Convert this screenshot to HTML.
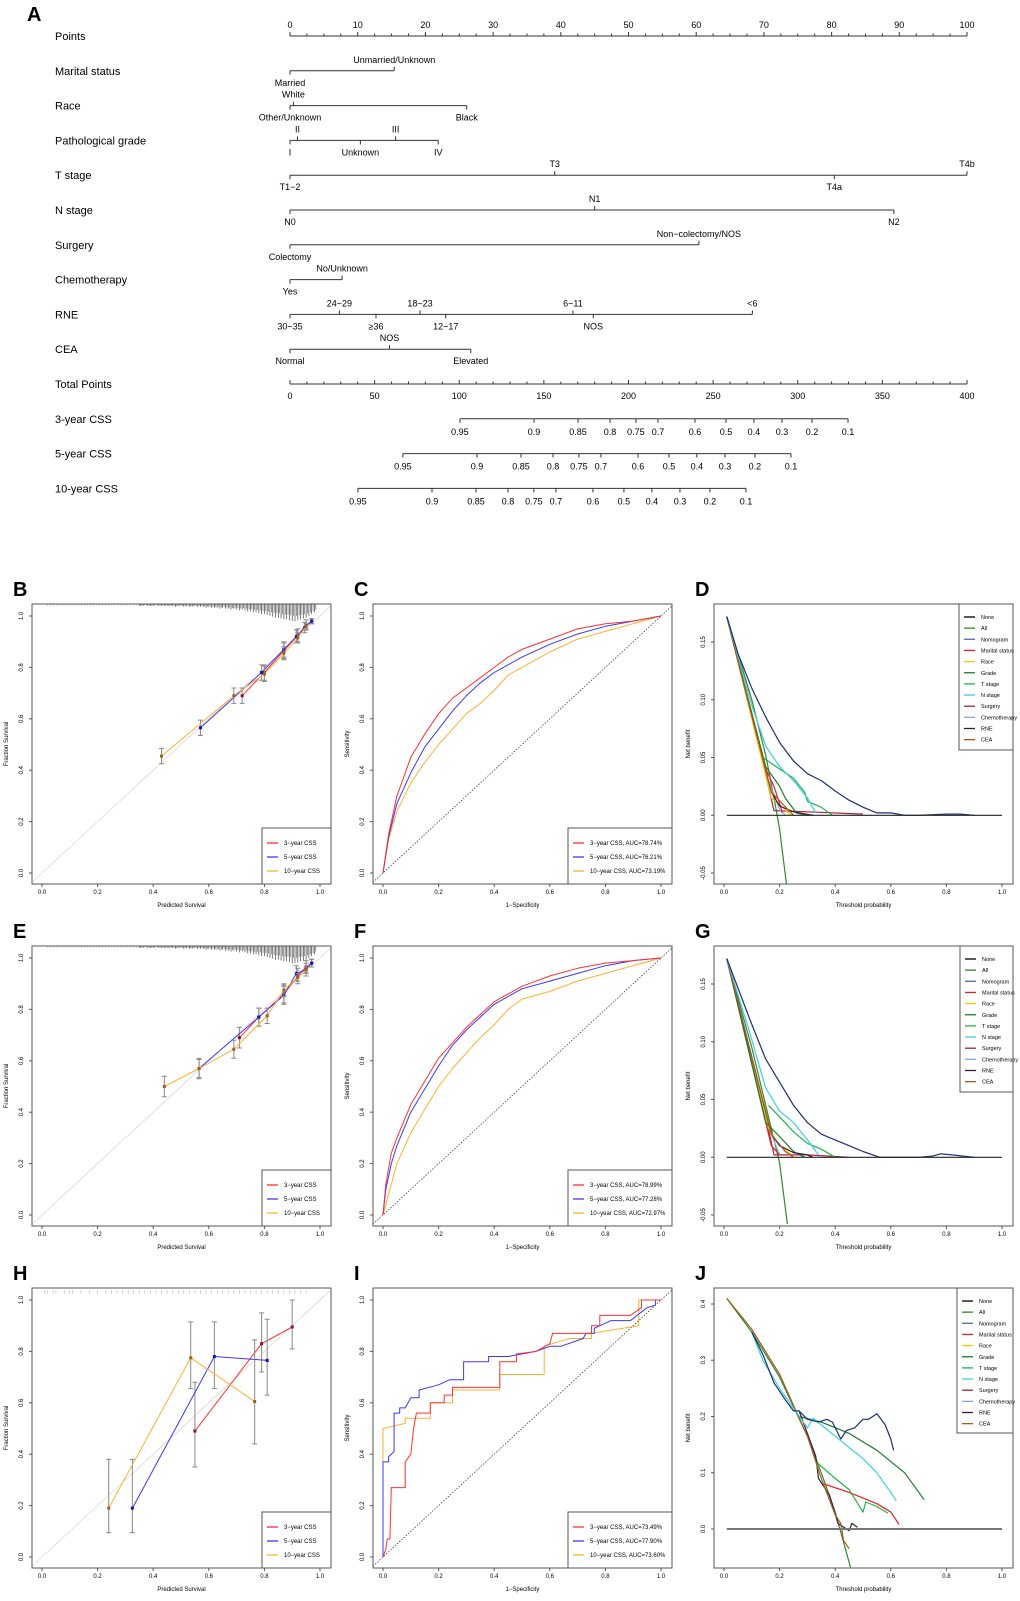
<!DOCTYPE html>
<html><head><meta charset="utf-8"><style>
html,body{margin:0;padding:0;background:#fff}
svg{display:block;font-family:"Liberation Sans",Arial,sans-serif}
</style></head><body>
<svg id="fig" xmlns="http://www.w3.org/2000/svg" width="1020" height="1601" viewBox="0 0 1020 1601"></svg>
<script>
// ===== Nomogram data =====
const rowLabels=['Points','Marital status','Race','Pathological grade','T stage','N stage','Surgery','Chemotherapy','RNE','CEA','Total Points','3-year CSS','5-year CSS','10-year CSS'];
const factorNames=[['Married','Unmarried/Unknown'],['Other/Unknown','White','Black'],['I','II','Unknown','III','IV'],['T1\u22122','T3','T4a','T4b'],['N0','N1','N2'],['Colectomy','Non\u2212colectomy/NOS'],['Yes','No/Unknown'],['30~35','24~29','\u226536','18~23','12~17','6~11','NOS','<6'],['Normal','NOS','Elevated']];
const factorPoints=[[0,15.4],[0,0.5,26.1],[0,1.1,10.4,15.6,21.9],[0,39.1,80.4,100],[0,45,89.2],[0,60.4],[0,7.7],[0,7.3,12.7,19.2,23.0,41.8,44.8,68.3],[0,14.7,26.7]];
const factorSide=[['b','a'],['b','a','b'],['b','a','b','a','b'],['b','a','b','a'],['b','a','b'],['b','a'],['b','a'],['b','a','b','a','b','a','b','a'],['b','a','b']];
const cssLabels=['0.95','0.9','0.85','0.8','0.75','0.7','0.6','0.5','0.4','0.3','0.2','0.1'];
const css3TotalPts=[100.4,144.2,170.2,189.1,204.4,217.4,239.3,257.6,274.1,290.7,308.4,329.7];
const cssShift=[0,-33.7,-60.3];
// ===== Calibration data =====
const calB3x=[0.72,0.80,0.87,0.92,0.95,0.97], calB3y=[0.69,0.78,0.865,0.925,0.965,0.98];
const calB5x=[0.57,0.79,0.87,0.915,0.945,0.97], calB5y=[0.565,0.78,0.87,0.92,0.955,0.98];
const calB10x=[0.43,0.69,0.80,0.87,0.92,0.95], calB10y=[0.455,0.69,0.775,0.855,0.915,0.96];
const calBerr=[0.03,0.03,0.03,0.025,0.02,0.01];
const calE3x=[0.71,0.78,0.87,0.92,0.95,0.97], calE3y=[0.69,0.77,0.86,0.93,0.965,0.98];
const calE5x=[0.565,0.78,0.87,0.915,0.95,0.97], calE5y=[0.57,0.77,0.855,0.94,0.955,0.98];
const calE10x=[0.44,0.565,0.69,0.81,0.87,0.92,0.95], calE10y=[0.50,0.57,0.645,0.775,0.875,0.925,0.955];
const calEerr=[0.04,0.035,0.035,0.03,0.025,0.015,0.01];
const calH3x=[0.55,0.79,0.90], calH3y=[0.49,0.83,0.895], calH3lo=[0.35,0.72,0.81], calH3hi=[0.68,0.95,1.0];
const calH5x=[0.325,0.62,0.81], calH5y=[0.19,0.78,0.765], calH5lo=[0.095,0.655,0.63], calH5hi=[0.38,0.915,0.925];
const calH10x=[0.24,0.535,0.765], calH10y=[0.19,0.775,0.605], calH10lo=[0.095,0.655,0.44], calH10hi=[0.38,0.915,0.845];
const rugCounts=[1,1,0,1,1,1,0,1,1,1,1,1,1,2,1,1,2,1,2,2,1,2,2,2,3,2,3,3,3,4,3,4,4,5,4,5,6,5,6,7,7,8,8,9,10,10,11,12,13,14,14,15,16,16,17,18,18,17,16,15,14,12,10,8];
const hRugX=[0.01,0.02,0.04,0.05,0.08,0.1,0.11,0.14,0.17,0.2,0.23,0.25,0.27,0.29,0.31,0.33,0.35,0.37,0.39,0.41,0.43,0.45,0.47,0.49,0.51,0.53,0.55,0.57,0.59,0.61,0.63,0.65,0.67,0.69,0.71,0.73,0.75,0.77,0.79,0.81,0.83,0.85,0.87,0.89,0.91,0.93,0.95];
// ===== ROC data =====
const rocC3=[[0,0],[0.02,0.15],[0.05,0.3],[0.07,0.36],[0.1,0.45],[0.15,0.54],[0.2,0.62],[0.25,0.68],[0.3,0.72],[0.35,0.76],[0.4,0.8],[0.45,0.84],[0.5,0.87],[0.6,0.91],[0.7,0.95],[0.8,0.97],[0.9,0.98],[1,1]];
const rocC5=[[0,0],[0.02,0.14],[0.05,0.27],[0.1,0.39],[0.15,0.49],[0.2,0.56],[0.25,0.63],[0.3,0.69],[0.35,0.74],[0.4,0.78],[0.5,0.84],[0.6,0.89],[0.7,0.93],[0.8,0.96],[0.9,0.98],[1,1]];
const rocC10=[[0,0],[0.02,0.13],[0.05,0.24],[0.1,0.35],[0.15,0.43],[0.2,0.5],[0.25,0.56],[0.3,0.62],[0.35,0.66],[0.4,0.71],[0.45,0.77],[0.5,0.8],[0.6,0.86],[0.7,0.91],[0.8,0.94],[0.9,0.97],[1,1]];
const rocF3=[[0,0],[0.01,0.12],[0.03,0.24],[0.05,0.3],[0.1,0.43],[0.15,0.52],[0.2,0.61],[0.25,0.67],[0.3,0.73],[0.35,0.78],[0.4,0.83],[0.5,0.89],[0.6,0.93],[0.7,0.96],[0.8,0.98],[0.9,0.99],[1,1]];
const rocF5=[[0,0],[0.01,0.1],[0.03,0.2],[0.05,0.27],[0.1,0.4],[0.15,0.49],[0.2,0.58],[0.25,0.66],[0.3,0.72],[0.35,0.77],[0.4,0.82],[0.5,0.88],[0.6,0.91],[0.7,0.94],[0.8,0.97],[0.9,0.99],[1,1]];
const rocF10=[[0,0],[0.02,0.08],[0.05,0.2],[0.1,0.32],[0.15,0.41],[0.2,0.5],[0.25,0.57],[0.3,0.63],[0.35,0.69],[0.4,0.74],[0.45,0.8],[0.5,0.84],[0.6,0.87],[0.7,0.91],[0.8,0.94],[0.9,0.97],[1,1]];
const rocI3=[[0,0],[0.01,0.03],[0.015,0.07],[0.025,0.07],[0.03,0.27],[0.08,0.27],[0.08,0.37],[0.1,0.4],[0.11,0.5],[0.12,0.56],[0.17,0.56],[0.17,0.6],[0.22,0.6],[0.22,0.63],[0.25,0.63],[0.25,0.66],[0.42,0.66],[0.42,0.76],[0.48,0.76],[0.48,0.79],[0.55,0.8],[0.6,0.83],[0.61,0.87],[0.75,0.87],[0.75,0.9],[0.78,0.9],[0.78,0.94],[0.89,0.94],[0.93,0.97],[0.93,1],[1,1]];
const rocI5=[[0,0],[0,0.37],[0.02,0.37],[0.02,0.39],[0.04,0.41],[0.04,0.56],[0.06,0.56],[0.06,0.58],[0.08,0.58],[0.1,0.62],[0.13,0.62],[0.13,0.65],[0.2,0.67],[0.24,0.69],[0.29,0.69],[0.29,0.76],[0.38,0.76],[0.38,0.78],[0.45,0.78],[0.55,0.8],[0.6,0.82],[0.64,0.82],[0.72,0.85],[0.73,0.87],[0.76,0.87],[0.76,0.89],[0.82,0.92],[0.89,0.92],[0.95,0.97],[0.98,0.98],[0.98,1],[1,1]];
const rocI10=[[0,0],[0,0.5],[0.08,0.52],[0.08,0.54],[0.17,0.54],[0.17,0.6],[0.25,0.6],[0.25,0.65],[0.42,0.65],[0.42,0.71],[0.58,0.71],[0.58,0.82],[0.67,0.85],[0.75,0.85],[0.75,0.87],[0.92,0.9],[0.92,1],[1,1]];
const aucC=['3\u2212year CSS, AUC=78.74%','5\u2212year CSS, AUC=76.21%','10\u2212year CSS, AUC=73.19%'];
const aucF=['3\u2212year CSS, AUC=78.99%','5\u2212year CSS, AUC=77.28%','10\u2212year CSS, AUC=72.97%'];
const aucI=['3\u2212year CSS, AUC=73.49%','5\u2212year CSS, AUC=77.90%','10\u2212year CSS, AUC=73.60%'];
// ===== DCA data =====
const dcaNames=['None','All','Nomogram','Marital status','Race','Grade','T stage','N stage','Surgery','Chemotherapy','RNE','CEA'];
const dcaD={
 'All':[[0.01,0.172],[0.1,0.1],[0.15,0.052],[0.18,0.015],[0.2,-0.012],[0.225,-0.06]],
 'Nomogram':[[0.01,0.172],[0.05,0.14],[0.1,0.11],[0.15,0.085],[0.2,0.063],[0.25,0.047],[0.3,0.036],[0.35,0.03],[0.4,0.021],[0.45,0.013],[0.5,0.007],[0.55,0.002],[0.6,0.002],[0.65,0],[0.7,0],[0.8,0.001],[0.85,0.001],[0.9,0]],
 'N stage':[[0.01,0.172],[0.1,0.095],[0.15,0.06],[0.2,0.042],[0.25,0.03],[0.3,0.015],[0.33,0.002]],
 'T stage':[[0.14,0.05],[0.2,0.04],[0.25,0.032],[0.29,0.02],[0.3,0.012],[0.35,0.007],[0.39,0]],
 'Grade':[[0.01,0.172],[0.15,0.042],[0.2,0.025],[0.22,0.015],[0.26,0.002],[0.3,0]],
 'Marital status':[[0.01,0.172],[0.15,0.04],[0.18,0.025],[0.2,0.01],[0.21,0.002]],
 'Race':[[0.01,0.172],[0.17,0.015],[0.22,0.005],[0.24,0]],
 'Surgery':[[0.01,0.172],[0.15,0.035],[0.18,0.004],[0.3,0.003],[0.5,0.001]],
 'Chemotherapy':[[0.01,0.172],[0.16,0.03],[0.2,0.005],[0.22,0]],
 'RNE':[[0.01,0.172],[0.17,0.02],[0.2,0.008],[0.25,0.003],[0.32,0]],
 'CEA':[[0.01,0.172],[0.17,0.02],[0.23,0.005],[0.25,0]]};
const dcaG={
 'All':[[0.01,0.172],[0.1,0.095],[0.15,0.045],[0.2,-0.005],[0.228,-0.058]],
 'Nomogram':[[0.01,0.172],[0.1,0.115],[0.15,0.085],[0.2,0.065],[0.25,0.045],[0.3,0.03],[0.35,0.02],[0.4,0.015],[0.45,0.01],[0.5,0.005],[0.56,0],[0.65,0],[0.7,0],[0.75,0.001],[0.78,0.003],[0.82,0.002],[0.9,0]],
 'N stage':[[0.01,0.172],[0.09,0.11],[0.15,0.06],[0.2,0.04],[0.25,0.03],[0.3,0.015],[0.34,0.002]],
 'T stage':[[0.16,0.045],[0.2,0.035],[0.25,0.022],[0.3,0.012],[0.35,0.007],[0.4,0]],
 'Grade':[[0.01,0.172],[0.15,0.03],[0.2,0.018],[0.25,0.005],[0.29,0]],
 'Marital status':[[0.01,0.172],[0.17,0.01],[0.2,0.002]],
 'Race':[[0.01,0.172],[0.16,0.025],[0.2,0.01],[0.24,0.003]],
 'Surgery':[[0.01,0.172],[0.15,0.035],[0.18,0.002],[0.3,0.002],[0.45,0]],
 'Chemotherapy':[[0.01,0.172],[0.17,0.02],[0.2,0.002]],
 'RNE':[[0.01,0.172],[0.17,0.02],[0.2,0.01],[0.25,0.004],[0.3,0.002],[0.32,0]],
 'CEA':[[0.01,0.172],[0.17,0.02],[0.22,0.005],[0.25,0]]};
const dcaJ={
 'All':[[0.01,0.41],[0.1,0.35],[0.2,0.27],[0.3,0.165],[0.35,0.1],[0.4,0.03],[0.455,-0.068]],
 'Nomogram':[[0.1,0.35],[0.14,0.31],[0.18,0.26],[0.22,0.23],[0.25,0.21],[0.27,0.21],[0.3,0.195],[0.34,0.19],[0.37,0.195],[0.39,0.19],[0.42,0.16],[0.44,0.175],[0.47,0.18],[0.5,0.195],[0.52,0.195],[0.55,0.205],[0.58,0.185],[0.6,0.16],[0.61,0.14]],
 'N stage':[[0.1,0.35],[0.14,0.3],[0.2,0.25],[0.25,0.215],[0.3,0.18],[0.32,0.197],[0.35,0.185],[0.4,0.165],[0.45,0.145],[0.5,0.125],[0.55,0.1],[0.6,0.065],[0.62,0.05]],
 'Grade':[[0.27,0.2],[0.35,0.19],[0.45,0.17],[0.55,0.14],[0.65,0.1],[0.72,0.052]],
 'T stage':[[0.33,0.12],[0.4,0.09],[0.45,0.07],[0.5,0.03],[0.51,0.048],[0.55,0.04],[0.59,0.028]],
 'Marital status':[[0.36,0.08],[0.45,0.065],[0.55,0.045],[0.6,0.03],[0.63,0.008]],
 'RNE':[[0.27,0.21],[0.33,0.13],[0.34,0.09],[0.38,0.06],[0.41,0.01],[0.45,-0.003],[0.46,0.01],[0.48,0.003]],
 'CEA':[[0.01,0.41],[0.1,0.355],[0.2,0.275],[0.3,0.165],[0.35,0.09],[0.4,0.025],[0.42,0.01],[0.43,-0.02],[0.45,-0.035]]};
const dcaColors={'None':'#000000','All':'#2e8b2e','Nomogram':'#1f2f6f','Marital status':'#e8202a','Race':'#f5c800','Grade':'#1b7a2f','T stage':'#22b34a','N stage':'#3ccfe0','Surgery':'#a0283c','Chemotherapy':'#7ab0e0','RNE':'#3b1a3a','CEA':'#a85a1e'};
const calTicks=['0.0','0.2','0.4','0.6','0.8','1.0'];
const dcaYTicks=['-0.05','0.00','0.05','0.10','0.15'];
const dcaJYTicks=['0.0','0.1','0.2','0.3','0.4'];

const NS='http://www.w3.org/2000/svg';
const svg=document.getElementById('fig');
function mk(tag,attrs,parent){const e=document.createElementNS(NS,tag);for(const k in attrs)e.setAttribute(k,attrs[k]);(parent||svg).appendChild(e);return e;}
function txt(s,x,y,size,anchor,parent,extra){const t=mk('text',Object.assign({x:x,y:y,'font-size':size,'text-anchor':anchor||'middle',fill:'#000'},extra||{}),parent);t.textContent=s;return t;}

// ===== Nomogram =====
const gA=mk('g',{});


const la=txt('A',27,21,20,'start',gA,{'font-weight':'bold'});


const xP=p=>290+p*6.77;
const xT=t=>290+t*1.6925;
const rowY=i=>36+i*34.8;
rowLabels.forEach((l,i)=>{const t=txt(l,55,rowY(i)+4,11,'start',gA);

});
{const y=rowY(0);const ax=mk('g',{},gA);


mk('line',{x1:xP(0),x2:xP(100),y1:y,y2:y,stroke:'#333','stroke-width':1},ax);
for(let v=0;v<=100;v+=2.5){const maj=v%10===0;mk('line',{x1:xP(v),x2:xP(v),y1:y,y2:y-(maj?4:2.5),stroke:'#333'},ax);if(maj)txt(String(v),xP(v),y-8,9,'middle',ax);}}
factorNames.forEach((names,r)=>{const y=rowY(r+1);const pts=factorPoints[r];const g=mk('g',{},gA);


mk('line',{x1:xP(Math.min(...pts)),x2:xP(Math.max(...pts)),y1:y,y2:y,stroke:'#333'},g);
names.forEach((n,k)=>{const up=factorSide[r][k]==='a';const x=xP(pts[k]);
mk('line',{x1:x,x2:x,y1:y,y2:up?y-4:y+4,stroke:'#333'},g);
const t=txt(n,x,up?y-8:y+15,9,'middle',g);

});});
{const y=rowY(10);const ax=mk('g',{},gA);


mk('line',{x1:xT(0),x2:xT(400),y1:y,y2:y,stroke:'#333'},ax);
for(let v=0;v<=400;v+=10){const maj=v%50===0;mk('line',{x1:xT(v),x2:xT(v),y1:y,y2:y-(maj?4:2.5),stroke:'#333'},ax);if(maj)txt(String(v),xT(v),y+15,9,'middle',ax);}}
cssShift.forEach((s,j)=>{const y=rowY(11+j);const ax=mk('g',{},gA);


const xs=css3TotalPts.map(t=>xT(t+s));
mk('line',{x1:xs[0],x2:xs[xs.length-1],y1:y,y2:y,stroke:'#333'},ax);
xs.forEach((x,k)=>{mk('line',{x1:x,x2:x,y1:y,y2:y+4,stroke:'#333'},ax);txt(cssLabels[k],x,y+16,9,'middle',ax);});});

// ===== Panels =====
const colX=[32,373,714], rowT=[604,946,1288], PW=299, PH=280;
function makePanel(letter,c,r,yRef,xTitle,yTitle,yTicks,yTickVals){
 const L=colX[c],T=rowT[r];const g=mk('g',{});
 
 
 const sx=v=>L+10+v*278;
 const sy=v=>T+yRef[1]+(v-yRef[0])*(yRef[3]-yRef[1])/(yRef[2]-yRef[0]);
 const id='clip'+letter;const cp=mk('clipPath',{id:id},g);mk('rect',{x:L,y:T,width:PW,height:PH},cp);
 const inner=mk('g',{'clip-path':'url(#'+id+')'},g);
 mk('rect',{x:L,y:T,width:PW,height:PH,fill:'none',stroke:'#555','stroke-width':1},g);
 const lt=txt(letter,L-19,T-8,20,'start',g,{'font-weight':'bold'});
 
 
 calTicks.forEach(s=>{const v=parseFloat(s);const x=sx(v);mk('line',{x1:x,x2:x,y1:T+PH,y2:T+PH+3,stroke:'#555'},g);txt(s,x,T+PH+10,6,'middle',g);});
 yTicks.forEach((s,k)=>{const y=sy(yTickVals[k]);mk('line',{x1:L,x2:L-3,y1:y,y2:y,stroke:'#555'},g);txt(s,L-9,y,6,'middle',g,{transform:'rotate(-90 '+(L-9)+' '+y+')'});});
 const xt=txt(xTitle,L+PW/2,T+PH+23,6,'middle',g);
 
 
 const yt=txt(yTitle,L-24,T+PH/2,6,'middle',g,{transform:'rotate(-90 '+(L-24)+' '+(T+PH/2)+')'});
 
 
 return {g,inner,sx,sy,L,T};
}
function poly(P,pts,color,w,name){const d=pts.map((p,i)=>(i?'L':'M')+P.sx(p[0]).toFixed(1)+' '+P.sy(p[1]).toFixed(1)).join(' ');const e=mk('path',{d:d,fill:'none',stroke:color,'stroke-width':w,'stroke-linejoin':'round'},P.inner);

return e;}
function legend(P,x0,y0,w,h,labels,colors,step,size){const g=mk('g',{},P.g);


mk('rect',{x:x0,y:y0,width:w,height:h,fill:'#fff',stroke:'#555'},g);
labels.forEach((l,i)=>{const y=y0+(labels.length>3?13:15)+i*step;mk('line',{x1:x0+5,x2:x0+16,y1:y,y2:y,stroke:colors[i],'stroke-width':1.3},g);const t=txt(l,x0+22,y+2,size,'start',g);

});}
const CSSC=['#ff3030','#3838ff','#ffb030'];
const CSSL=['3\u2212year CSS','5\u2212year CSS','10\u2212year CSS'];
const calRef=[0,269,1,12];
function calib(letter,r,sets,errs,rug){
 const P=makePanel(letter,0,r,calRef,r===1?'Predicted  Survival':'Predicted Survival','Fraction Survival',calTicks,calTicks.map(parseFloat));
 mk('line',{x1:P.sx(-0.1),y1:P.sy(-0.1),x2:P.sx(1.1),y2:P.sy(1.1),stroke:'#d8d8d8','stroke-width':0.8},P.inner);
 if(rug==='dense'){rugCounts.forEach((c,k)=>{const x=P.sx(0.35+k*0.01);mk('line',{x1:x,x2:x,y1:P.T,y2:P.T+1+c*0.9,stroke:'#444','stroke-width':0.7},P.inner);
   const x2=P.sx(0.355+k*0.01);mk('line',{x1:x2,x2:x2,y1:P.T,y2:P.T+1+c*0.6,stroke:'#555','stroke-width':0.6},P.inner);});
  for(let k=0;k<30;k++){const x=P.sx(0.02+k*0.011);mk('line',{x1:x,x2:x,y1:P.T,y2:P.T+1.5,stroke:'#888','stroke-width':0.5},P.inner);}}
 else{hRugX.forEach(v=>{const x=P.sx(v);mk('line',{x1:x,x2:x,y1:P.T+2,y2:P.T+6,stroke:'#bbb','stroke-width':0.6},P.inner);});}
 sets.forEach((s,i)=>{const pts=s[0].map((x,k)=>[x,s[1][k]]);
  s[0].forEach((x,k)=>{const lo=s[2]?s[2][k]:s[1][k]-errs[k];const hi=s[3]?s[3][k]:s[1][k]+errs[k];const X=P.sx(x);
   const eb=mk('path',{d:'M'+X+' '+P.sy(lo)+'V'+P.sy(hi)+'M'+(X-2.5)+' '+P.sy(lo)+'h5M'+(X-2.5)+' '+P.sy(hi)+'h5',stroke:'#888',fill:'none','stroke-width':1},P.inner);
   
   });
  poly(P,pts,CSSC[i],1,'calibration-line-'+['3yr','5yr','10yr'][i]);
  pts.forEach(p=>{const m=mk('rect',{x:P.sx(p[0])-1.5,y:P.sy(p[1])-1.5,width:3,height:3,fill:i===0?'#8b1030':i===1?'#1010c0':'#a06010'},P.inner);
   
   });});
 legend(P,P.L+230,P.T+224,69,56,CSSL,CSSC,14,6);
}
calib('B',0,[[calB3x,calB3y],[calB5x,calB5y],[calB10x,calB10y]],calBerr,'dense');
calib('E',1,[[calE3x,calE3y],[calE5x,calE5y],[calE10x,calE10y]],calEerr,'dense');
calib('H',2,[[calH3x,calH3y,calH3lo,calH3hi],[calH5x,calH5y,calH5lo,calH5hi],[calH10x,calH10y,calH10lo,calH10hi]],[0,0,0],'light');

function roc(letter,r,curves,labels){
 const P=makePanel(letter,1,r,calRef,'1\u2212Specificity','Sensitivity',calTicks,calTicks.map(parseFloat));
 mk('line',{x1:P.sx(-0.1),y1:P.sy(-0.1),x2:P.sx(1.1),y2:P.sy(1.1),stroke:'#444','stroke-width':0.8,'stroke-dasharray':'1.5 1.5'},P.inner);
 [2,1,0].forEach(i=>poly(P,curves[i],CSSC[i],1,'roc-curve-'+['3yr','5yr','10yr'][i]));
 legend(P,P.L+195,P.T+224,104,56,labels,CSSC,14,6);
}
roc('C',0,[rocC3,rocC5,rocC10],aucC);
roc('F',1,[rocF3,rocF5,rocF10],aucF);
roc('I',2,[rocI3,rocI5,rocI10],aucI);

function dca(letter,r,data,yt,ytv,ref,legBox){
 const P=makePanel(letter,2,r,ref,'Threshold probability','Net benefit',yt,ytv);
 const order=['All','Surgery','Race','Chemotherapy','Marital status','Grade','T stage','RNE','CEA','N stage','Nomogram'];
 order.forEach(k=>{if(data[k])poly(P,data[k],dcaColors[k],1.2,'dca-curve-'+k.toLowerCase().replace(/\s+/g,'-'));});
 poly(P,[[0.01,0],[1,0]],letter==='J'?'#777':'#222',letter==='J'?2:1.2,'dca-curve-none');
 legend(P,legBox[0],legBox[1],legBox[2],legBox[3],dcaNames,dcaNames.map(n=>n==='Nomogram'?'#4a6fa5':dcaColors[n]),11.15,5.5);
}
dca('D',0,dcaD,dcaYTicks,[-0.05,0,0.05,0.1,0.15],[0.15,38,-0.05,269],[959,604,54,146]);
dca('G',1,dcaG,dcaYTicks,[-0.05,0,0.05,0.1,0.15],[0.15,38,-0.05,269],[960,946,53,146]);
dca('J',2,dcaJ,dcaJYTicks,[0,0.1,0.2,0.3,0.4],[0.4,16,0,241],[957,1288,56,145]);
</script>
</body></html>
